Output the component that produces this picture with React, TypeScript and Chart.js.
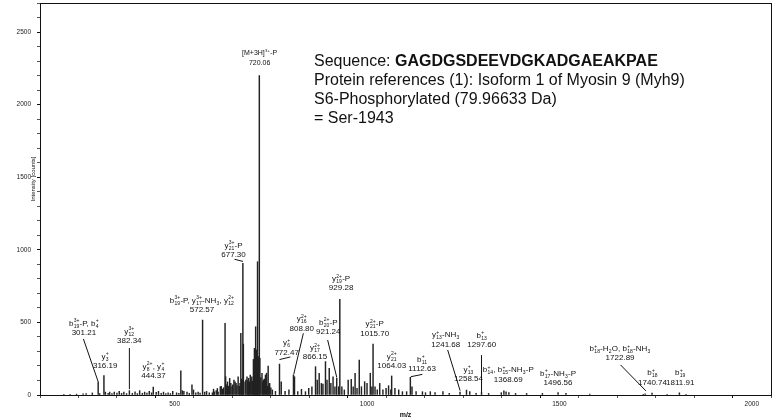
import React, { useEffect, useRef } from "react";
import { Chart, registerables } from "chart.js";
Chart.register(...registerables);

// ---- data: peak list (m/z, intensity in counts) ----
const peakMz = [
  212, 228, 245, 262, 270, 286, 301.21, 305, 316.19, 320, 327, 331, 337, 343, 350, 356, 362, 368, 375,
  382.34, 390, 397, 403, 409, 416, 422, 428, 434, 440, 444.37, 452, 458, 465, 471, 477, 483, 489, 495,
  505, 511, 516, 520, 524, 532, 538, 545, 549, 555, 561, 566, 572.57, 578, 583, 590, 598, 601, 603, 608,
  611, 613, 618.6, 621, 624, 627, 631, 632.5, 634, 637.4, 640, 643, 646, 649, 651, 654, 657, 659.6, 662,
  665, 668, 670, 672, 674, 676, 677.3, 678.6, 683, 685, 688, 690, 692, 694, 696.5, 698, 700.6, 702,
  704.7, 706, 707.3, 709, 710.5, 712, 713, 715.4, 717, 718.3, 720.06, 721.5, 724, 727, 729, 731, 733,
  736, 739, 741, 743, 745, 747, 750, 754, 762, 772.47, 777, 787, 797, 808.8, 811.5, 820, 829.6, 840,
  848.5, 856.7, 866.15, 870.6, 875.6, 881.3, 885.4, 892, 896, 901.8, 906, 911.7, 916.6, 921.24, 926.4,
  929.28, 934.6, 941, 951, 959, 964, 969, 974, 979.8, 985.5, 993.8, 1000, 1008.5, 1012.6, 1015.7,
  1020.8, 1026.6, 1033, 1041.3, 1049.5, 1056, 1061.9, 1064.03, 1072.5, 1082.4, 1092, 1102.9, 1112.63,
  1116.9, 1127.5, 1144, 1152, 1164.5, 1176.8, 1197.3, 1213.7, 1241.68, 1258.54, 1267, 1283.5, 1297.6,
  1316, 1349, 1355.7, 1361.4, 1368.69, 1386, 1414.8, 1455.8, 1496.56, 1517, 1579, 1718, 1722.89,
  1740.74, 1780, 1811.91, 1829,
];
const peakIntensity = [
  5, 4, 6, 8, 10, 14, 92, 10, 133, 20, 12, 20, 10, 20, 14, 25, 12, 20, 10,
  30, 12, 22, 10, 30, 12, 20, 14, 25, 15, 55, 18, 25, 12, 20, 10, 15, 10, 25,
  15, 12, 167, 30, 25, 20, 12, 70, 35, 15, 20, 14, 516, 20, 25, 15, 15, 40, 22, 30,
  45, 20, 57, 60, 40, 50, 494, 126, 70, 90, 60, 115, 80, 57, 70, 103, 90, 80, 65,
  126, 60, 80, 425, 110, 103, 907, 351, 90, 103, 126, 100, 115, 90, 138, 110, 126, 95,
  245, 130, 321, 150, 470, 140, 310, 918, 160, 264, 2200, 253, 120, 150, 90, 103, 110,
  138, 150, 60, 200, 70, 80, 50, 35, 25, 213, 90, 25, 35, 138, 126, 23, 39, 23,
  46, 57, 195, 103, 150, 80, 76, 230, 103, 184, 80, 126, 57, 115, 57,
  659, 57, 35, 103, 108, 57, 150, 46, 241, 57, 92, 80, 150, 57, 351,
  57, 35, 80, 35, 46, 64, 35, 131, 46, 35, 23, 23, 122,
  57, 23, 23, 16, 23, 16, 23, 11, 20, 34, 23, 11, 16,
  11, 16, 28, 21, 16, 11, 11, 11, 16, 11, 7, 4, 8,
  13, 5, 15, 4,
];

// ---- annotations ----
const annIon = [
  "b_{19}^{3+}-P, b_{4}^{+}", "y_{3}^{+}", "y_{12}^{3+}", "y_{8}^{2+}, y_{4}^{+}",
  "b_{19}^{3+}-P, y_{17}^{3+}-NH_{3}, y_{12}^{2+}", "y_{21}^{3+}-P", "[M+3H]^{3+}-P", "y_{6}^{+}",
  "y_{16}^{2+}", "y_{17}^{2+}", "b_{20}^{2+}-P", "y_{19}^{2+}-P", "y_{21}^{2+}-P", "y_{21}^{2+}",
  "b_{11}^{+}", "y_{13}^{+}-NH_{3}", "y_{13}^{+}", "b_{13}^{+}", "b_{14}^{+}, b_{15}^{+}-NH_{3}-P",
  "b_{17}^{+}-NH_{3}-P", "b_{18}^{+}-H_{2}O, b_{18}^{+}-NH_{3}", "b_{18}^{+}", "b_{19}^{+}",
];
const annValue = [
  "301.21", "316.19", "382.34", "444.37", "572.57", "677.30", "720.06", "772.47", "808.80", "866.15",
  "921.24", "929.28", "1015.70", "1064.03", "1112.63", "1241.68", "1258.54", "1297.60", "1368.69",
  "1496.56", "1722.89", "1740.74", "1811.91",
];
// label centre (m/z) and value-line level (counts)
const annMz = [
  264, 319.4, 382.2, 445, 571, 653, 720.8, 791, 830.4, 864.8, 899.3, 932.6, 1020, 1064.3, 1143,
  1204.7, 1263.8, 1298.2, 1367.2, 1496.5, 1657.7, 1742, 1814,
];
const annLevel = [
  427, 200, 372, 131, 585, 964, 2287, 293, 459, 260, 436, 735, 424, 200, 182, 349, 110, 344, 108,
  86, 253, 87, 87,
];
// leader lines: [m/z1, counts1, m/z2, counts2]
const leaders = [
  [262.8, 386, 300.6, 96],
  [382.34, 324, 382.34, 40],
  [655.5, 935, 677.7, 920],
  [772.5, 244, 800.8, 262],
  [834.5, 425, 809.5, 142],
  [897.6, 379, 921.5, 120],
  [1114, 126, 1143.8, 142],
  [1209.6, 310, 1242, 30],
  [1297.6, 275, 1297.6, 14],
  [1659, 207, 1725, 28],
];

const infoSeqLabel = "Sequence: ";
const infoSeq = "GAGDGSDEEVDGKADGAEAKPAE";
const infoLines = [
  "Protein references (1): Isoform 1 of Myosin 9 (Myh9)",
  "S6-Phosphorylated (79.96633 Da)",
  "= Ser-1943",
];

const FONT = '"Liberation Sans", Arial, Helvetica, sans-serif';

type Part = { t: "n" | "sub" | "sup"; s: string };
function parseRich(s: string): Part[] {
  const out: Part[] = [];
  let buf = "";
  let i = 0;
  while (i < s.length) {
    const c = s[i];
    if ((c === "_" || c === "^") && s[i + 1] === "{") {
      if (buf) { out.push({ t: "n", s: buf }); buf = ""; }
      const j = s.indexOf("}", i);
      out.push({ t: c === "_" ? "sub" : "sup", s: s.slice(i + 2, j) });
      i = j + 1;
    } else { buf += c; i++; }
  }
  if (buf) out.push({ t: "n", s: buf });
  return out;
}

function drawRich(ctx: CanvasRenderingContext2D, s: string, cx: number, y: number, size: number) {
  const parts = parseRich(s);
  const groups: any[] = [];
  for (const p of parts) {
    if (p.t === "n") groups.push({ n: p.s });
    else {
      const last = groups[groups.length - 1];
      if (last && last.n === undefined && last[p.t] === undefined) last[p.t] = p.s;
      else groups.push({ [p.t]: p.s });
    }
  }
  const baseF = `${size}px ${FONT}`;
  const smallF = `${Math.round(size * 0.62 * 10) / 10}px ${FONT}`;
  let total = 0;
  for (const g of groups) {
    if (g.n !== undefined) { ctx.font = baseF; g.w = ctx.measureText(g.n).width; }
    else {
      ctx.font = smallF;
      const a = g.sub ? ctx.measureText(g.sub).width : 0;
      const b = g.sup ? ctx.measureText(g.sup).width : 0;
      g.w = Math.max(a, b) + 0.5;
    }
    total += g.w;
  }
  let x = cx - total / 2;
  ctx.textAlign = "left";
  ctx.textBaseline = "alphabetic";
  for (const g of groups) {
    if (g.n !== undefined) { ctx.font = baseF; ctx.fillText(g.n, x, y); }
    else {
      ctx.font = smallF;
      if (g.sub) ctx.fillText(g.sub, x + 0.3, y + size * 0.25);
      if (g.sup) ctx.fillText(g.sup, x + 0.3, y - size * 0.45);
    }
    x += g.w;
  }
}

const overlay = {
  id: "overlay",
  afterDatasetsDraw(chart: any) {
    const { ctx, chartArea: a, scales } = chart;
    const xs = scales.x, ys = scales.y;
    ctx.save();
    // frame
    ctx.strokeStyle = "#111";
    ctx.lineWidth = 1;
    ctx.strokeRect(Math.round(a.left) + 0.5, Math.round(a.top) + 0.5, Math.round(a.right - a.left), Math.round(a.bottom - a.top));
    ctx.fillStyle = "#111";
    // annotations
    for (let i = 0; i < annIon.length; i++) {
      const cx = xs.getPixelForValue(annMz[i]);
      const vy = ys.getPixelForValue(annLevel[i]);
      const isPrec = annValue[i] === "720.06";
      const vs = isPrec ? 7 : 8;
      ctx.font = `${vs}px ${FONT}`;
      ctx.textAlign = "center";
      ctx.textBaseline = "middle";
      ctx.fillText(annValue[i], cx, vy);
      drawRich(ctx, annIon[i], cx, vy - (isPrec ? 7.5 : 7), isPrec ? 7 : 8);
    }
    ctx.strokeStyle = "#111";
    ctx.lineWidth = 1;
    for (const l of leaders) {
      ctx.beginPath();
      ctx.moveTo(xs.getPixelForValue(l[0]), ys.getPixelForValue(l[1]));
      ctx.lineTo(xs.getPixelForValue(l[2]), ys.getPixelForValue(l[3]));
      ctx.stroke();
    }
    // axis titles
    ctx.fillStyle = "#111";
    ctx.font = `bold 7px ${FONT}`;
    ctx.textAlign = "center";
    ctx.textBaseline = "middle";
    ctx.fillText("m/z", (a.left + a.right) / 2, 415);
    ctx.save();
    ctx.translate(33.5, (a.top + a.bottom) / 2 - 20);
    ctx.rotate(-Math.PI / 2);
    ctx.font = `6px ${FONT}`;
    ctx.fillText("Intensity [counts]", 0, 0);
    ctx.restore();
    // info text
    ctx.textAlign = "left";
    ctx.textBaseline = "middle";
    const tx = 314;
    ctx.font = `16px ${FONT}`;
    ctx.fillText(infoSeqLabel, tx, 62);
    const w = ctx.measureText(infoSeqLabel).width;
    ctx.font = `bold 16px ${FONT}`;
    ctx.fillText(infoSeq, tx + w, 62);
    ctx.font = `16px ${FONT}`;
    infoLines.forEach((t, k) => ctx.fillText(t, tx, 81 + k * 19));
    ctx.restore();
  },
};

export default function App() {
  const ref = useRef<HTMLCanvasElement>(null);
  useEffect(() => {
    const canvas = ref.current!;
    const chart = new Chart(canvas, {
      type: "bar",
      data: {
        datasets: [
          {
            data: peakMz.map((x, i) => ({ x, y: peakIntensity[i] })),
            backgroundColor: "#222",
            borderWidth: 0,
            barThickness: 0.8,
            grouped: false,
          } as any,
        ],
      },
      options: {
        animation: false,
        responsive: false,
        maintainAspectRatio: false,
        events: [],
        layout: { padding: { top: 3, right: 11, left: 0, bottom: 0 } },
        plugins: { legend: { display: false }, tooltip: { enabled: false } },
        scales: {
          x: {
            type: "linear",
            min: 200,
            max: 2000,
            afterFit: (s: any) => { s.height = 25; s.paddingLeft = 0; s.paddingRight = 0; },
            border: { display: false },
            grid: {
              drawOnChartArea: false,
              tickLength: 3,
              tickColor: (c: any) => (c.tick && c.tick.value % 500 === 0 ? "#111" : "#555"),
            },
            ticks: {
              stepSize: 100,
              autoSkip: false,
              maxRotation: 0,
              padding: 2,
              color: "#222",
              font: { size: 6.5, family: FONT },
              callback: (v: any) => (Number(v) % 500 === 0 ? String(v) : ""),
            },
          },
          y: {
            type: "linear",
            min: 0,
            max: 2700,
            afterFit: (s: any) => { s.width = 40; s.paddingTop = 0; s.paddingBottom = 0; },
            border: { display: false },
            grid: {
              drawOnChartArea: false,
              tickLength: 3,
              tickColor: (c: any) => (c.tick && c.tick.value % 500 === 0 ? "#111" : "#555"),
            },
            ticks: {
              stepSize: 100,
              autoSkip: false,
              padding: 6,
              color: "#222",
              font: { size: 6.5, family: FONT },
              callback: (v: any) => (Number(v) % 500 === 0 ? String(v) : ""),
            },
          },
        },
      } as any,
      plugins: [overlay],
    });
    return () => chart.destroy();
  }, []);
  return (
    <div style={{ position: "fixed", left: 0, top: 0, width: 782, height: 420, background: "#fff" }}>
      <canvas ref={ref} width={782} height={420} style={{ display: "block", width: 782, height: 420 }} />
    </div>
  );
}
